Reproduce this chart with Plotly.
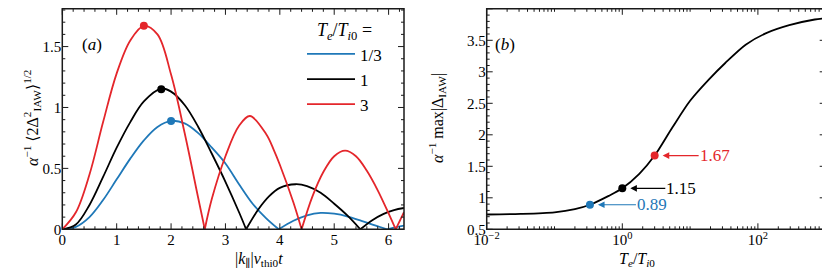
import math
import plotly.graph_objects as go

# ---------------- data ----------------
# panel (a): |k_par| v_thi0 t  vs  alpha^-1 <2 Delta^2>^1/2 ; arches separated by None
blue_k = [0, 0.25, 0.5, 0.75, 1.0, 1.25, 1.5, 1.75, 2.0, 2.25, 2.5, 2.75, 3.0, 3.25, 3.5, 3.75, 3.98, None,
          3.98, 4.25, 4.5, 4.75, 5.0, 5.25, 5.5, 5.75, 5.97, None,
          5.97, 6.15, 6.283]
blue_amp = [0, 0.02, 0.1, 0.24, 0.41, 0.58, 0.73, 0.84, 0.89, 0.87, 0.79, 0.67, 0.54, 0.37, 0.21, 0.09, 0, None,
            0, 0.07, 0.115, 0.135, 0.128, 0.105, 0.07, 0.032, 0, None,
            0, 0.018, 0.03]

black_k = [0, 0.25, 0.5, 0.75, 1.0, 1.25, 1.5, 1.82, 2.0, 2.25, 2.5, 2.75, 3.0, 3.25, 3.38, None,
           3.38, 3.6, 3.8, 4.0, 4.29, 4.5, 4.75, 5.0, 5.25, 5.48, None,
           5.48, 5.7, 5.9, 6.1, 6.283]
black_amp = [0, 0.04, 0.2, 0.43, 0.67, 0.88, 1.05, 1.155, 1.13, 1.02, 0.84, 0.62, 0.39, 0.14, 0, None,
             0, 0.16, 0.27, 0.34, 0.37, 0.355, 0.3, 0.21, 0.11, 0, None,
             0, 0.075, 0.125, 0.158, 0.175]

red_k = [0, 0.25, 0.5, 0.75, 1.0, 1.25, 1.5, 1.75, 2.0, 2.25, 2.5, 2.62, None,
         2.62, 2.75, 3.0, 3.25, 3.45, 3.75, 3.89, 4.0, 4.25, 4.4, None,
         4.4, 4.6, 4.8, 5.0, 5.2, 5.4, 5.6, 5.8, 6.0, 6.13, None,
         6.13, 6.283]
red_amp = [0, 0.14, 0.45, 0.88, 1.28, 1.55, 1.67, 1.6, 1.27, 0.79, 0.255, 0, None,
           0, 0.25, 0.6, 0.85, 0.93, 0.78, 0.65, 0.53, 0.22, 0, None,
           0, 0.27, 0.47, 0.6, 0.645, 0.6, 0.48, 0.32, 0.13, 0, None,
           0, 0.14]

series_names = ["1/3", "1", "3"]
peak_k = [2.0, 1.82, 1.5]
peak_amp = [0.89, 1.15, 1.67]

# panel (b): Te/Ti0 vs alpha^-1 max|Delta_IAW|
te_ratio = [0.01, 0.0316, 0.1, 0.2, 1 / 3, 0.63, 1, 1.78, 3, 5.5, 10, 19, 33, 66, 130, 290, 690, 1000]
max_delta = [0.735, 0.745, 0.77, 0.82, 0.89, 1.03, 1.15, 1.38, 1.67, 2.12, 2.54, 2.88, 3.14, 3.43, 3.61,
             3.74, 3.83, 3.85]
marked_te = [1 / 3, 1, 3]
marked_val = [0.89, 1.15, 1.67]
marked_text = ["0.89", "1.15", "1.67"]

x_ticks_a = [0, 1, 2, 3, 4, 5, 6]
y_ticks_a = [0, 0.5, 1, 1.5]
y_ticklabels_a = ["0", "0.5", "1", "1.5"]
x_ticks_b = [0.01, 1, 100]
x_ticklabels_b = ["10<sup>−2</sup>", "10<sup>0</sup>", "10<sup>2</sup>"]
y_ticks_b = [0.5, 1, 1.5, 2, 2.5, 3, 3.5, 4]
y_ticklabels_b = ["0.5", "1", "1.5", "2", "2.5", "3", "3.5", "4"]

# ---------------- layout helpers ----------------
BLUE = "#1f78b8"
BLACK = "#000000"
RED = "#e4262b"
colors = [BLUE, BLACK, RED]
FONT = "Liberation Serif, Times New Roman, DejaVu Serif, serif"
OFF = 8                 # page body margin of the browser
W, H = 830 - OFF, 277 - OFF
AX = "#1a1a1a"


def px(xs):             # screen pixel -> paper fraction
    return (xs - OFF) / W


def py(ys):
    return 1 - (ys - OFF) / H


Y_TOP, Y_BOT = 8.8, 229.3
XA = (62.3, 404.0)
XB = (486.7, 825.7)
PLOT_H = Y_BOT - Y_TOP
RANGE_XA = (0, 2 * math.pi)
RANGE_YA = (0, 1.81)
RANGE_XB = (-2, 3)
RANGE_YB = (0.5, 4)

fig = go.Figure()

for name, xs, ys, c in zip(series_names, [blue_k, black_k, red_k], [blue_amp, black_amp, red_amp], colors):
    fig.add_trace(go.Scatter(x=xs, y=ys, mode="lines", name=name,
                             line=dict(color=c, width=1.8, shape="spline", smoothing=1.0),
                             connectgaps=False, xaxis="x", yaxis="y"))
for i, c in enumerate(colors):
    fig.add_trace(go.Scatter(x=[peak_k[i]], y=[peak_amp[i]], mode="markers", showlegend=False,
                             marker=dict(color=c, size=8), xaxis="x", yaxis="y"))

fig.add_trace(go.Scatter(x=te_ratio, y=max_delta, mode="lines", showlegend=False,
                         line=dict(color=BLACK, width=1.8, shape="spline", smoothing=0.8),
                         xaxis="x2", yaxis="y2"))
fig.add_trace(go.Scatter(x=marked_te, y=marked_val, mode="markers", showlegend=False,
                         marker=dict(color=colors, size=8), xaxis="x2", yaxis="y2"))

# arrows + value labels on panel (b)
offsets = [46, 43, 44]
for te, v, t, c, off in zip(marked_te, marked_val, marked_text, colors, offsets):
    fig.add_annotation(x=math.log10(te), y=v, xref="x2", yref="y2", text=t,
                       showarrow=True, ax=off, ay=0, axref="pixel", ayref="pixel",
                       xanchor="left", yanchor="middle", arrowhead=2, arrowsize=1.1,
                       arrowwidth=1.2, arrowcolor=c, standoff=8, borderpad=0,
                       font=dict(family=FONT, size=17, color=c))

# panel labels
fig.add_annotation(x=px(80), y=py(33), xref="paper", yref="paper", text="(<i>a</i>)",
                   showarrow=False, font=dict(family=FONT, size=17, color="black"))
fig.add_annotation(x=px(505), y=py(33), xref="paper", yref="paper", text="(<i>b</i>)",
                   showarrow=False, font=dict(family=FONT, size=17, color="black"))

# axis titles
TF = dict(family=FONT, size=16, color="black")
fig.add_annotation(x=px(233), y=py(271), xref="paper", yref="paper", showarrow=False,
                   text="|<i>k</i><sub>∥</sub>|<i>v</i><sub>thi0</sub><i>t</i>", font=TF)
fig.add_annotation(x=px(657), y=py(271), xref="paper", yref="paper", showarrow=False,
                   text="<i>T<sub>e</sub></i>/<i>T</i><sub><i>i</i>0</sub>", font=TF)
fig.add_annotation(x=px(19), y=py(118), xref="paper", yref="paper", showarrow=False, textangle=-90,
                   text="<i>α</i><sup>−1</sup> ⟨2Δ<sup>2</sup><sub>IAW</sub>⟩<sup>1/2</sup>", font=TF)
fig.add_annotation(x=px(437), y=py(118), xref="paper", yref="paper", showarrow=False, textangle=-90,
                   text="<i>α</i><sup>−1</sup> max|Δ<sub>IAW</sub>|", font=TF)

# ---------------- frames and ticks on all four sides ----------------
minor_x_a = [round(i * 0.2, 2) for i in range(1, 32) if i % 5]
minor_y_a = [round(i * 0.1, 2) for i in range(1, 19) if i % 5]
minor_x_b = [m * 10 ** e for e in range(-2, 3) for m in range(2, 10)] + [0.1, 10, 1000]
minor_y_b = [round(0.5 + i * 0.1, 2) for i in range(1, 36) if i % 5]

shapes = []


def frame_ticks(box, xr, yr, xvals_major, xvals_minor, yvals_major, yvals_minor, xlog=False):
    x0s, x1s = box
    ln = dict(color=AX, width=1)

    def sx(v):
        p = math.log10(v) if xlog else v
        return x0s + (p - xr[0]) / (xr[1] - xr[0]) * (x1s - x0s)

    def sy(v):
        return Y_BOT - (v - yr[0]) / (yr[1] - yr[0]) * PLOT_H

    for vals, L in [(xvals_major, 6), (xvals_minor, 3)]:
        for v in vals:
            X = px(sx(v))
            shapes.append(dict(type="line", xref="paper", yref="paper", x0=X, x1=X,
                               y0=py(Y_BOT), y1=py(Y_BOT - L), line=ln))
            shapes.append(dict(type="line", xref="paper", yref="paper", x0=X, x1=X,
                               y0=py(Y_TOP), y1=py(Y_TOP + L), line=ln))
    for vals, L in [(yvals_major, 6), (yvals_minor, 3)]:
        for v in vals:
            Y = py(sy(v))
            shapes.append(dict(type="line", xref="paper", yref="paper", x0=px(x0s), x1=px(x0s + L),
                               y0=Y, y1=Y, line=ln))
            shapes.append(dict(type="line", xref="paper", yref="paper", x0=px(x1s - L), x1=px(x1s),
                               y0=Y, y1=Y, line=ln))
    shapes.append(dict(type="rect", xref="paper", yref="paper", x0=px(x0s), x1=px(x1s),
                       y0=py(Y_BOT), y1=py(Y_TOP), line=dict(color=AX, width=1.5),
                       fillcolor="rgba(0,0,0,0)"))


frame_ticks(XA, RANGE_XA, RANGE_YA, x_ticks_a, minor_x_a, y_ticks_a, minor_y_a)
frame_ticks(XB, RANGE_XB, RANGE_YB, x_ticks_b, minor_x_b, y_ticks_b, minor_y_b, xlog=True)

ydom = [py(Y_BOT), py(Y_TOP)]
axis_common = dict(showline=False, ticks="", showgrid=False, zeroline=False, automargin=False,
                   tickfont=dict(family=FONT, size=15, color="black"))

fig.update_layout(
    width=W, height=H,
    margin=dict(l=0, r=0, t=0, b=0),
    paper_bgcolor="white", plot_bgcolor="white",
    font=dict(family=FONT, size=15, color="black"),
    shapes=shapes,
    xaxis=dict(domain=[px(XA[0]), px(XA[1])], range=list(RANGE_XA), tickvals=x_ticks_a, anchor="y",
               **axis_common),
    yaxis=dict(domain=ydom, range=list(RANGE_YA), tickvals=y_ticks_a, ticktext=y_ticklabels_a,
               anchor="x", **axis_common),
    xaxis2=dict(domain=[px(XB[0]), px(XB[1])], type="log", range=list(RANGE_XB), tickvals=x_ticks_b,
                ticktext=x_ticklabels_b, anchor="y2", **axis_common),
    yaxis2=dict(domain=ydom, range=list(RANGE_YB), tickvals=y_ticks_b, ticktext=y_ticklabels_b,
                anchor="x2", **axis_common),
    legend=dict(x=px(302), y=py(13), xanchor="left", yanchor="top",
                bgcolor="rgba(0,0,0,0)", borderwidth=0,
                font=dict(family=FONT, size=17, color="black"),
                title=dict(text="<i>T<sub>e</sub></i>/<i>T</i><sub><i>i</i>0</sub> =", side="top center",
                           font=dict(family=FONT, size=18)),
                tracegroupgap=0, itemwidth=48),
)

fig.write_html("out.html")
